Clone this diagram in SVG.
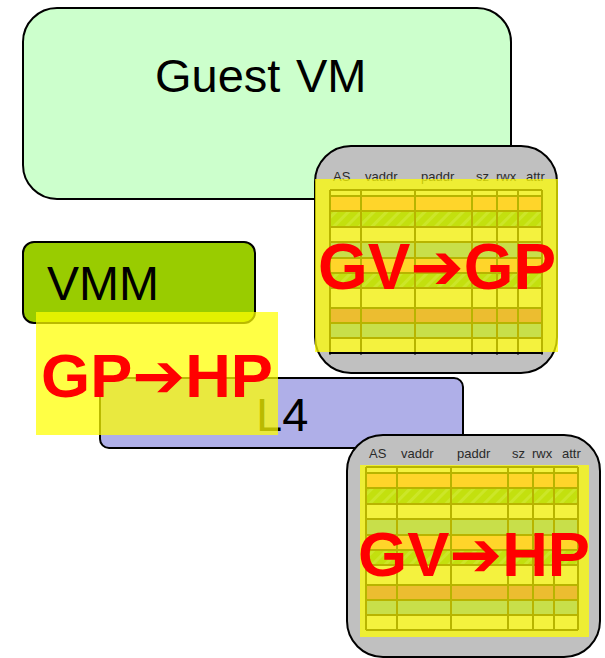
<svg xmlns="http://www.w3.org/2000/svg" width="605" height="658" viewBox="0 0 605 658">
  <style>
    .box { stroke: #000; stroke-width: 2; }
    .label { font-family: "Liberation Sans", Arial, sans-serif; fill: #000; }
    .hdr { font-family: "Liberation Sans", Arial, sans-serif; font-size: 13px; fill: #2a2a2a; }
    .xlate { font-family: "Liberation Sans", Arial, sans-serif; font-weight: bold; fill: #ff0000; }
    .arrow { font-family: "DejaVu Sans", sans-serif; font-weight: bold; }
    .haze { fill: #ffff00; fill-opacity: 0.73; }
    .grid line { stroke: #b8b400; stroke-width: 2; }
  </style>
  <defs>
    <pattern id="hatch" width="9" height="9" patternUnits="userSpaceOnUse" patternTransform="rotate(45)">
      <rect width="9" height="9" fill="#c3e00e"/>
      <rect width="3" height="9" fill="#cce628"/>
    </pattern>
    <!-- page-table column headings, origin = top-left of the grid -->
    <g id="heads">
      <text class="hdr" x="3" y="-9">AS</text>
      <text class="hdr" x="35" y="-9">vaddr</text>
      <text class="hdr" x="91" y="-9">paddr</text>
      <text class="hdr" x="146" y="-9">sz</text>
      <text class="hdr" x="166" y="-9">rwx</text>
      <text class="hdr" x="196" y="-9">attr</text>
    </g>
    <!-- page-table rows and cell rules -->
    <g id="grid" class="grid">
      <rect x="0" y="0" width="212" height="6" fill="#f4f23e"/>
      <rect x="0" y="6" width="212" height="15" fill="#ffd52a"/>
      <rect x="0" y="21" width="212" height="16" fill="url(#hatch)"/>
      <rect x="0" y="37" width="212" height="15" fill="#f4f23e"/>
      <rect x="0" y="52" width="212" height="16" fill="#c8df4a"/>
      <rect x="0" y="68" width="212" height="15" fill="#ffd52a"/>
      <rect x="0" y="83" width="212" height="15" fill="url(#hatch)"/>
      <rect x="0" y="98" width="212" height="20" fill="#f4f23e"/>
      <rect x="0" y="118" width="212" height="15" fill="#ecbd30"/>
      <rect x="0" y="133" width="212" height="15" fill="#c8df4a"/>
      <rect x="0" y="148" width="212" height="15" fill="#f4f23e"/>
      <line x1="0" y1="0" x2="212" y2="0"/>
      <line x1="0" y1="6" x2="212" y2="6"/>
      <line x1="0" y1="21" x2="212" y2="21"/>
      <line x1="0" y1="37" x2="212" y2="37"/>
      <line x1="0" y1="52" x2="212" y2="52"/>
      <line x1="0" y1="68" x2="212" y2="68"/>
      <line x1="0" y1="83" x2="212" y2="83"/>
      <line x1="0" y1="98" x2="212" y2="98"/>
      <line x1="0" y1="118" x2="212" y2="118"/>
      <line x1="0" y1="133" x2="212" y2="133"/>
      <line x1="0" y1="148" x2="212" y2="148"/>
      <line x1="0" y1="163" x2="212" y2="163"/>
      <line x1="0" y1="0" x2="0" y2="163"/>
      <line x1="31" y1="0" x2="31" y2="163"/>
      <line x1="85" y1="0" x2="85" y2="163"/>
      <line x1="142" y1="0" x2="142" y2="163"/>
      <line x1="167" y1="0" x2="167" y2="163"/>
      <line x1="188" y1="0" x2="188" y2="163"/>
      <line x1="212" y1="0" x2="212" y2="163"/>
    </g>
  </defs>

  <g id="guest-vm">
    <rect class="box" x="23" y="8" width="488" height="191" rx="34" fill="#ccffcc"/>
    <text class="label" font-size="47"><tspan x="155" y="92">Guest</tspan><tspan x="296" y="92">VM</tspan></text>
  </g>

  <g id="table-gv-gp">
    <rect class="box" x="315" y="146" width="242" height="227" rx="36" fill="#c0c0c0"/>
    <use href="#heads" x="330" y="190"/>
    <rect class="haze" x="315" y="179" width="243" height="173"/>
    <use href="#grid" x="330" y="190"/>
    <path d="M329 353H543M330 352V354.5M361 352V354.5M415 352V354.5M472 352V354.5M497 352V354.5M518 352V354.5M542 352V354.5" stroke="#000" stroke-width="2" fill="none"/>
    <text class="xlate" x="318" y="289" font-size="64" textLength="238" lengthAdjust="spacingAndGlyphs">GV<tspan class="arrow">➔</tspan>GP</text>
  </g>

  <g id="vmm">
    <rect class="box" x="23" y="242" width="232" height="81" rx="11" fill="#99cc00"/>
    <text class="label" x="47" y="300" font-size="48">VMM</text>
  </g>

  <g id="l4">
    <rect class="box" x="100" y="378" width="363" height="70" rx="9" fill="#afafe8"/>
    <text class="label" x="256" y="431" font-size="47">L4</text>
  </g>

  <g id="gp-hp">
    <rect class="haze" x="36" y="312" width="242" height="123"/>
    <text class="xlate" x="41" y="397" font-size="61" textLength="232" lengthAdjust="spacingAndGlyphs">GP<tspan class="arrow">➔</tspan>HP</text>
  </g>

  <g id="table-gv-hp">
    <rect class="box" x="347" y="435" width="253" height="222" rx="36" fill="#c0c0c0"/>
    <use href="#heads" x="366" y="467"/>
    <rect class="haze" x="360" y="465" width="229" height="172"/>
    <use href="#grid" x="366" y="467"/>
    <text class="xlate" x="358" y="576" font-size="63" textLength="232" lengthAdjust="spacingAndGlyphs">GV<tspan class="arrow">➔</tspan>HP</text>
  </g>

  <g id="connectors"/>
</svg>
